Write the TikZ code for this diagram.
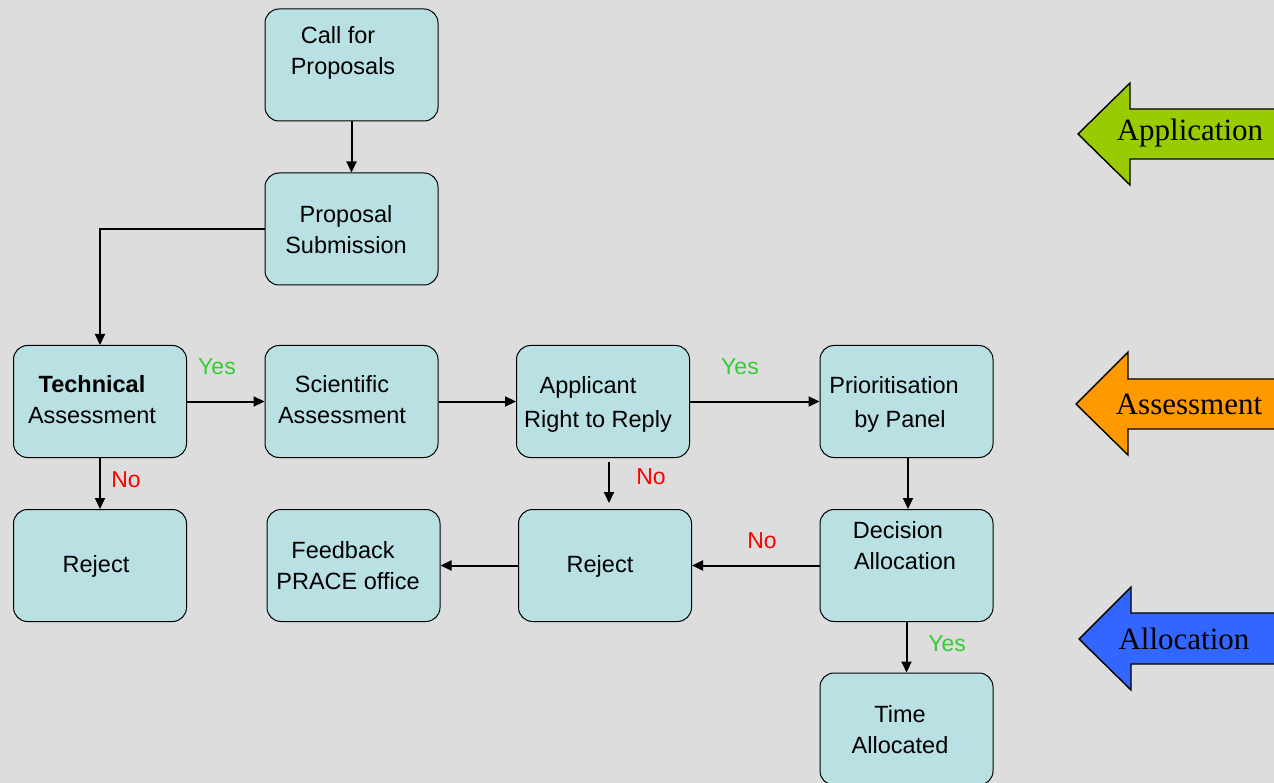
\documentclass[tikz,border=0pt]{standalone}
\usepackage{fontspec}
\setmainfont{Liberation Serif}
\newfontfamily\arial{Liberation Sans}
\usetikzlibrary{arrows.meta}
\definecolor{bg}{HTML}{DDDDDD}
\definecolor{boxfill}{HTML}{B9E0E3}
\definecolor{yesgreen}{HTML}{33CC33}
\definecolor{nored}{HTML}{FF0000}
\definecolor{appgreen}{HTML}{99CC00}
\definecolor{assorange}{HTML}{FF9900}
\definecolor{allocblue}{HTML}{3366FF}
\tikzset{
  flowbox/.style={draw=black, line width=1pt, fill=boxfill, rounded corners=14pt,
    minimum width=173pt, minimum height=112pt, inner sep=0pt},
  boxtext/.style={align=center, inner sep=0pt, font=\arial\fontsize{23.5}{31}\selectfont},
  widetext/.style={boxtext, font=\arial\fontsize{23.5}{34}\selectfont},
  conn/.style={draw=black, line width=2pt, -{Triangle[length=11pt,width=10pt]}},
  yeslab/.style={text=yesgreen, inner sep=0pt, font=\arial\fontsize{23}{26}\selectfont},
  nolab/.style={text=nored, inner sep=0pt, font=\arial\fontsize{23}{26}\selectfont},
  phase/.style={draw=black, line width=1.4pt},
  phasetext/.style={inner sep=0pt, font=\fontsize{31}{36}\selectfont}
}
\begin{document}
\begin{tikzpicture}[x=1pt,y=-1pt]
\fill[bg] (0,0) rectangle (1274,783);
\useasboundingbox (0,0) rectangle (1274,783);

% boxes
\node[flowbox] (call) at (351.5,65) {};
\node[flowbox] (prop) at (351.5,229) {};
\node[flowbox] (tech) at (100,401.5) {};
\node[flowbox] (sci) at (351.5,401.5) {};
\node[flowbox] (appl) at (603,401.5) {};
\node[flowbox] (prio) at (906.5,401.5) {};
\node[flowbox] (rej1) at (100,565.5) {};
\node[flowbox] (feed) at (353.5,565.5) {};
\node[flowbox] (rej2) at (605,565.5) {};
\node[flowbox] (dec) at (906.5,565.5) {};
\node[flowbox] (time) at (906.5,729) {};

% box texts
\node[boxtext] (callT) at (343,53) {\hspace*{-10pt}Call for\\Proposals};
\node[boxtext] (propT) at (346,230) {Proposal\\Submission};
\node[boxtext] (techT) at (92,400) {\textbf{Technical}\\Assessment};
\node[boxtext] (sciT) at (342,400) {Scientific\\Assessment};
\node[widetext] (applT) at (598,404) {\hspace*{-20pt}Applicant\\Right to Reply};
\node[widetext] (prioT) at (900,404) {\hspace*{-12pt}Prioritisation\\by Panel};
\node[boxtext] (rej1T) at (96,566) {Reject};
\node[boxtext] (feedT) at (348,566) {\hspace*{-10pt}Feedback\\PRACE office};
\node[boxtext] (rej2T) at (600,566) {Reject};
\node[boxtext] (decT) at (905,546) {\hspace*{-14pt}Decision\\Allocation};
\node[boxtext] (timeT) at (900,730) {Time\\Allocated};

% connectors
\draw[conn] (call) -- (prop);
\draw[conn] (prop.west) -| (tech.north);
\draw[conn] (tech) -- (sci);
\draw[conn] (sci) -- (appl);
\draw[conn] (appl) -- (prio);
\draw[conn] (tech) -- (rej1);
\draw[conn] ([xshift=6pt,yshift=-4pt]appl.south) -- ([xshift=6pt,yshift=6pt]appl.south |- rej2.north);
\draw[conn] ([xshift=1.5pt]prio.south) -- ([xshift=1.5pt]dec.north);
\draw[conn] (dec) -- (rej2);
\draw[conn] (rej2) -- (feed);
\draw[conn] (dec) -- (time);

% labels
\node[yeslab] (y1) at (217,367) {Yes};
\node[yeslab] (y2) at (740,367) {Yes};
\node[yeslab] (y3) at (947,644) {Yes};
\node[nolab] (n1) at (126,480) {No};
\node[nolab] (n2) at (651,477) {No};
\node[nolab] (n3) at (762,541) {No};

% phase arrows
\draw[phase, fill=appgreen] (1290,109) -- (1130,109) -- (1130,83) -- (1078,134) -- (1130,185) -- (1130,159) -- (1290,159) -- cycle;
\node[phasetext] (pa) at (1190,133) {Application};
\draw[phase, fill=assorange] (1290,379) -- (1128,379) -- (1128,352) -- (1076,404) -- (1128,455) -- (1128,429) -- (1290,429) -- cycle;
\node[phasetext] (pb) at (1189,404) {Assessment};
\draw[phase, fill=allocblue] (1290,613) -- (1131,613) -- (1131,587) -- (1079,639) -- (1131,690) -- (1131,664) -- (1290,664) -- cycle;
\node[phasetext] (pc) at (1184,639) {Allocation};
\end{tikzpicture}
\end{document}
